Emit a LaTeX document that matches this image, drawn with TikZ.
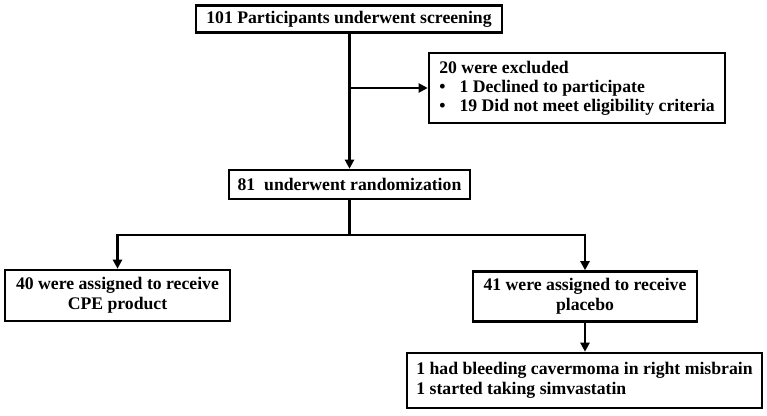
\documentclass[tikz,border=0pt]{standalone}
\usepackage{fontspec}
\setmainfont{Liberation Serif}
\usetikzlibrary{arrows.meta}
\begin{document}
\begin{tikzpicture}[x=1pt,y=-1pt,
  box/.style={draw=black,line width=2.6pt,inner sep=0pt,font=\fontsize{17.7}{20}\selectfont\bfseries},
  conn/.style={line width=2.6pt,-{Triangle[length=9pt,width=9pt]}},
  plain/.style={line width=2.6pt}]
\useasboundingbox (0,0) rectangle (767,415);
\node[box,minimum width=306pt,minimum height=27pt] (top) at (349,19) {101 Participants underwent screening};
\node[box,minimum width=296pt,minimum height=70pt,align=left] (excl) at (577,88) {%
\begin{tabular}{@{}l@{\hspace{14pt}}l@{}}
\multicolumn{2}{@{}l}{20 were excluded}\\[-1pt]
\textbullet & 1 Declined to participate\\[-1pt]
\textbullet & 19 Did not meet eligibility criteria
\end{tabular}};
\node[box,minimum width=241pt,minimum height=29pt] (rand) at (349.5,184.5) {81\ \ underwent randomization};
\node[box,minimum width=225pt,minimum height=51pt,align=center] (left) at (117.5,295.5) {40 were assigned to receive\\CPE product};
\node[box,minimum width=224pt,minimum height=50pt,align=center] (right) at (585,296.5) {41 were assigned to receive\\placebo};
\node[box,minimum width=355pt,minimum height=55pt,align=left] (bot) at (584.5,380.5) {1 had bleeding cavermoma in right misbrain\\1 started taking simvastatin};
\coordinate (branch) at (349.5,88);
\coordinate (split) at (349.5,235);
\draw[conn] (rand.north |- top.south) -- (rand.north);
\draw[conn] (branch) -- (excl.west);
\draw[plain] (rand.south) -- (split);
\draw[conn] (split) -| (left.north);
\draw[conn] (split) -| (right.north);
\draw[conn] (right.south) -- (bot.north -| right.south);
\end{tikzpicture}
\end{document}
